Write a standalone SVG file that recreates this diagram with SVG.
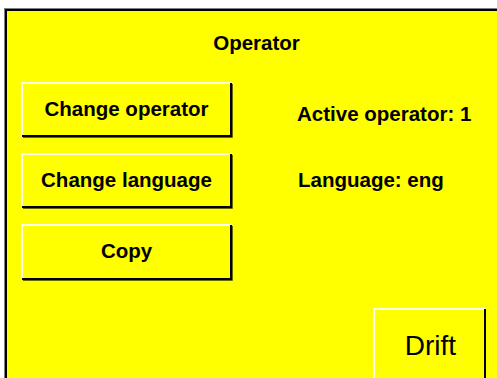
<svg xmlns="http://www.w3.org/2000/svg" width="497" height="378" viewBox="0 0 497 378">
<style>
.lbl{font-family:"Liberation Sans",Arial,sans-serif;font-weight:bold;font-size:20.5px;fill:#000}
.ctr{text-anchor:middle}
.face{fill:#ffff00}
.hi{stroke:#ffffe8;stroke-width:2;fill:none}
.sh{stroke:#000;stroke-width:2;fill:none}
.sh2{stroke:#6a6a00;stroke-width:1;fill:none}
</style>
<rect x="0" y="0" width="497" height="378" fill="#ffffff"/>
<g id="panel">
<rect x="4" y="8" width="600" height="480" fill="#808080"/>
<rect x="5" y="9" width="600" height="480" fill="#000"/>
<rect x="7" y="11" width="600" height="480" fill="#ffff00"/>
<text class="lbl ctr" x="256.5" y="50">Operator</text>
</g>
<g id="btn-change-operator">
<rect class="face" x="21" y="82" width="211" height="55"/>
<polyline class="hi" points="22,136 22,83 231,83"/>
<polyline class="sh" points="22,136 231,136 231,83"/>
<polyline class="sh2" points="23,137.5 232.5,137.5 232.5,84"/>
<text class="lbl ctr" x="126.5" y="115.5">Change operator</text>
</g>
<g id="btn-change-language">
<rect class="face" x="21" y="153" width="211" height="55"/>
<polyline class="hi" points="22,207 22,154 231,154"/>
<polyline class="sh" points="22,207 231,207 231,154"/>
<polyline class="sh2" points="23,208.5 232.5,208.5 232.5,155"/>
<text class="lbl ctr" x="126.5" y="187">Change language</text>
</g>
<g id="btn-copy">
<rect class="face" x="21" y="224" width="211" height="56"/>
<polyline class="hi" points="22,279 22,225 231,225"/>
<polyline class="sh" points="22,279 231,279 231,225"/>
<polyline class="sh2" points="23,280.5 232.5,280.5 232.5,226"/>
<text class="lbl ctr" x="126.5" y="258">Copy</text>
</g>
<g id="status">
<text class="lbl" x="297" y="121">Active operator: 1</text>
<text class="lbl" x="298" y="187">Language: eng</text>
</g>
<g id="btn-drift">
<rect class="face" x="373" y="308" width="113" height="80"/>
<polyline class="hi" points="374,390 374,309 485,309"/>
<line x1="485" y1="309" x2="485" y2="390" stroke="#000" stroke-width="2"/>
<text x="430.5" y="355" text-anchor="middle" font-family="'Liberation Sans',Arial,sans-serif" font-size="28" fill="#000">Drift</text>
</g>
<g id="connectors"/>
</svg>
